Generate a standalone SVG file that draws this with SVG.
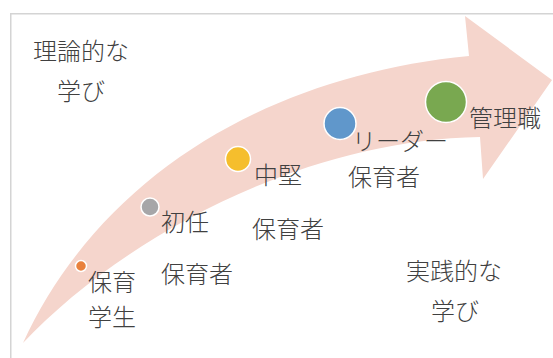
<svg xmlns="http://www.w3.org/2000/svg" width="553" height="358" viewBox="0 0 553 358">
  <style>
    .t { font-family: "Noto Sans CJK JP", "Noto Sans", sans-serif; font-size: 24px; font-weight: 300; fill: #404040; }
    .dot { stroke: #ffffff; stroke-width: 1.5; }
  </style>
  <rect x="0" y="0" width="553" height="358" fill="#ffffff"/>
  <rect id="frame" x="10.75" y="13.75" width="600" height="400" fill="none" stroke="#d4d4d4" stroke-width="1.5"/>
  <g id="arrow">
    <path d="M23,343 C100,175 270,75 469,56 L465,16 L552,80 L483,179 L480,137 C300,140 120,240 23,343 Z" fill="#f5d5cc"/>
  </g>
  <g id="theory">
    <text class="t" x="33" y="60">理論的な</text>
    <text class="t" x="57" y="100">学び</text>
  </g>
  <g id="practice">
    <text class="t" x="406" y="280">実践的な</text>
    <text class="t" x="431" y="320">学び</text>
  </g>
  <g id="student">
    <circle class="dot" cx="81" cy="266" r="5.5" fill="#e9813d"/>
    <text class="t" x="88" y="291">保育</text>
    <text class="t" x="88" y="326">学生</text>
  </g>
  <g id="novice">
    <circle class="dot" cx="150" cy="207" r="9" fill="#a6a6a8"/>
    <text class="t" x="161" y="231">初任</text>
    <text class="t" x="161" y="283">保育者</text>
  </g>
  <g id="midcareer">
    <circle class="dot" cx="238" cy="159" r="12.5" fill="#f5be2d"/>
    <text class="t" x="254" y="184">中堅</text>
    <text class="t" x="252" y="238">保育者</text>
  </g>
  <g id="leader">
    <circle class="dot" cx="340" cy="123.5" r="16" fill="#6097cb"/>
    <text class="t" x="352" y="150">リーダー</text>
    <text class="t" x="348" y="186">保育者</text>
  </g>
  <g id="manager">
    <circle class="dot" cx="446" cy="102" r="20.5" fill="#79a850"/>
    <text class="t" x="469" y="127">管理職</text>
  </g>
</svg>
